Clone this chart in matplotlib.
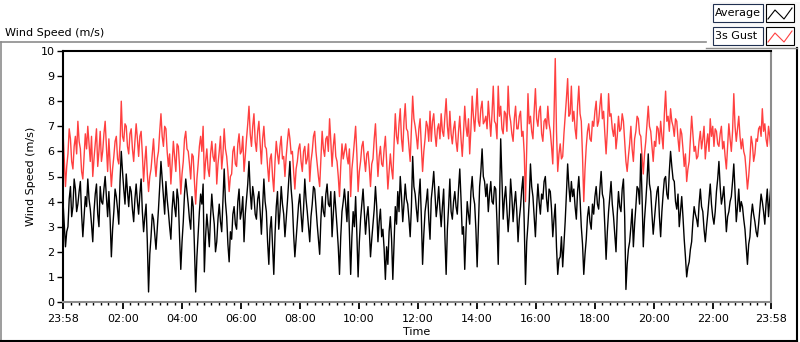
import numpy as np
import matplotlib
matplotlib.use("Agg")
import matplotlib.pyplot as plt
from matplotlib.patches import Rectangle
from matplotlib.lines import Line2D

# ==========================================
# Data (~2.5 min samples, 23:58 -> 23:58)
# ==========================================
average = [
    # 23:58 - 04:45
    4.0, 3.1, 2.2, 2.8, 3.0, 4.1, 4.6, 3.4, 3.8, 4.9, 4.5, 3.6, 3.9, 4.4, 4.8, 3.5,
    2.6, 3.4, 4.2, 3.8, 4.9, 4.1, 3.7, 3.1, 2.4, 3.6, 4.3, 4.7, 3.5, 3.0, 4.6, 4.0,
    3.9, 4.5, 5.0, 4.2, 3.4, 4.4, 3.3, 1.8, 2.9, 3.6, 4.5, 4.2, 3.7, 3.1, 4.8,
    6.0, 5.2, 4.5, 3.9, 5.1, 4.4, 3.8, 4.6, 4.4, 3.7, 3.2, 4.1, 4.7, 4.0, 3.5, 4.3,
    4.9, 3.6, 2.8, 3.4, 3.9, 2.4, 0.4, 1.9, 2.6, 3.5, 3.3, 2.7, 2.1, 2.9, 3.7, 4.6,
    5.6, 4.9, 4.2, 3.5, 4.8, 4.1, 3.6, 3.0, 2.5, 3.7, 4.4, 3.8, 3.4, 4.5, 4.1, 2.6,
    1.3, 2.4, 3.2, 4.3, 4.9, 4.4, 3.9, 3.3, 2.9, 4.2, 3.8, 2.2, 0.4, 1.8, 2.7, 3.6,
    4.3, 3.9, 4.7,
    # 04:45 - 09:35
    1.2, 2.6, 3.5, 2.9, 2.2, 3.4, 4.3, 3.6, 3.1, 2.0, 2.4, 3.3, 3.9, 3.2, 2.8, 4.1,
    5.3, 4.0, 3.4, 2.3, 1.6, 2.8, 2.5, 3.5, 3.8, 3.1, 2.9, 4.0, 4.5, 3.3, 3.6, 4.2,
    2.4, 3.5, 4.1, 4.7, 5.6, 4.4, 3.7, 4.6, 4.2, 3.5, 3.3, 4.1, 4.4, 3.6, 2.7, 3.8,
    4.9, 4.0, 3.6, 2.4, 1.5, 2.9, 3.4, 2.2, 1.1, 2.7, 3.8, 4.4, 2.9, 3.6, 4.6, 3.9,
    3.5, 2.6, 3.3, 4.0, 4.8, 5.6, 4.5, 3.9, 2.7, 1.8, 2.5, 3.2, 3.9, 4.3, 3.5,
    2.8, 3.7, 4.9, 4.1, 3.6, 3.0, 2.4, 3.4, 3.9, 4.6, 4.5, 3.8, 3.1, 2.5, 1.9, 3.3,
    4.2, 3.6, 3.4, 4.3, 4.7, 3.9, 3.8, 4.4, 2.6, 3.5, 4.4, 3.7, 3.0, 2.2, 1.1, 2.6,
    3.6, 4.0, 4.5,
    # 09:35 - 14:25
    3.9, 3.2, 4.4, 2.8, 1.1, 2.6, 3.6, 3.0, 4.2, 2.7, 1.0, 2.4, 3.3, 3.9, 4.5, 3.6,
    2.7, 3.4, 3.8, 2.9, 1.8, 2.5, 3.1, 3.7, 4.6, 3.8, 2.4, 3.2, 3.7, 2.6, 2.9, 2.1,
    0.9, 2.2, 1.5, 2.8, 3.4, 2.5, 0.9, 2.3, 3.8, 3.1, 4.4, 3.6, 5.0, 4.2, 3.2, 3.9,
    4.7, 4.1, 3.9, 3.3, 2.6, 3.8, 5.8, 4.6, 4.3, 3.7, 3.2, 4.2, 4.9, 3.4, 1.5, 2.7,
    3.6, 4.0, 4.5, 3.3, 2.5, 4.1, 4.6, 5.2, 4.3, 3.4, 3.9, 4.6, 3.7, 3.0, 3.8,
    4.5, 2.6, 1.1, 2.9, 3.8, 4.9, 3.6, 3.3, 4.0, 4.4, 3.8, 3.5, 4.5, 5.3, 4.1,
    2.7, 3.0, 1.3, 2.8, 4.0, 3.5, 3.1, 4.4, 5.0, 4.2, 3.9, 2.9, 1.4, 3.0, 4.6, 5.2,
    6.1, 5.0, 4.8,
    # 14:25 - 19:15
    4.2, 4.7, 3.6, 4.3, 4.8, 4.0, 3.9, 4.6, 4.5, 3.2, 1.5, 3.8, 6.5, 4.9, 3.3, 4.1,
    4.6, 3.7, 2.8, 3.5, 4.9, 4.2, 3.2, 3.9, 4.4, 3.6, 2.4, 3.3, 3.8, 4.5, 5.0, 3.1,
    0.7, 2.4, 3.1, 4.0, 5.5, 4.6, 4.2, 3.4, 2.6, 3.8, 4.7, 4.0, 3.5, 4.3, 4.1, 4.8,
    5.0, 4.1, 3.6, 4.5, 4.4, 3.7, 2.6, 3.3, 3.9, 2.2, 1.1, 1.7, 1.8, 2.6, 1.4, 2.3,
    3.2, 4.3, 5.5, 4.6, 4.0, 4.8, 4.2, 4.5, 3.8, 3.3, 4.4, 5.0, 4.1, 3.0, 2.3,
    1.1, 1.9, 2.5, 3.4, 3.8, 3.2, 2.9, 3.9, 3.5, 4.2, 4.6, 3.9, 3.7, 4.5, 5.2, 4.3,
    4.1, 3.0, 1.7, 2.8, 3.6, 4.2, 4.8, 3.9, 3.4, 2.7, 2.0, 3.5, 4.4, 3.8, 3.6, 4.5,
    4.9, 3.4, 0.5,
    # 19:15 - 23:58
    1.5, 2.1, 2.4, 3.0, 3.7, 2.2, 3.1, 3.8, 4.6, 4.5, 3.9, 5.9, 4.2, 2.2, 3.3, 4.0, 4.8,
    5.9, 4.7, 4.4, 3.5, 2.7, 3.3, 3.9, 4.4, 4.6, 3.4, 2.6, 3.6, 4.3, 4.9, 5.0, 4.3,
    4.1, 5.2, 6.0, 5.4, 4.9, 4.8, 4.0, 3.7, 4.3, 3.0, 3.6, 4.2, 3.4, 2.5, 1.8, 1.0, 1.4,
    1.6, 2.1, 2.4, 3.2, 3.8, 3.5, 3.3, 3.0, 3.9, 4.5, 3.8, 3.6, 2.9, 2.4, 3.0, 3.5, 4.1,
    4.7, 3.9, 3.4, 3.1, 3.6, 4.4, 4.9, 5.6, 4.6, 3.9, 4.2, 4.6, 3.7, 2.8, 3.4, 3.6, 4.0,
    4.2, 4.8, 5.5, 4.4, 3.2, 3.8, 4.5, 3.6, 4.0, 3.8, 3.3, 2.9, 2.2, 1.5, 2.3, 2.6, 3.4,
    3.9, 3.5, 3.2, 2.8, 2.6, 3.1, 3.7, 4.3, 4.0, 3.6, 3.1, 3.9, 4.5, 3.4, 4.1, 4.7,
]

gust = [
    # 23:58 - 04:45
    6.8, 5.7, 4.6, 5.4, 5.9, 6.9, 6.5, 5.6, 5.3, 6.2, 6.6, 5.9, 7.2, 6.4, 6.1, 5.2,
    4.9, 5.8, 6.7, 6.1, 7.0, 6.3, 5.6, 6.6, 5.0, 5.7, 6.3, 6.9, 5.4, 6.0, 6.8, 5.6,
    6.0, 6.7, 7.2, 6.2, 5.2, 6.5, 5.5, 4.6, 5.3, 5.8, 6.4, 6.6, 5.7, 5.5, 6.3,
    8.0, 6.6, 6.4, 7.1, 7.0, 6.2, 5.9, 6.7, 6.9, 6.1, 5.6, 6.4, 7.1, 6.5, 5.8, 6.6,
    6.8, 5.9, 4.8, 5.6, 6.2, 5.1, 4.4, 5.0, 5.3, 5.9, 6.5, 5.6, 5.0, 5.7, 6.0, 6.8,
    7.5, 6.6, 6.2, 7.0, 6.9, 6.0, 5.4, 5.9, 4.7, 5.5, 6.4, 5.8, 5.2, 6.3, 6.2, 5.4,
    4.3, 5.1, 5.6, 6.5, 6.8, 6.1, 6.0, 5.5, 4.9, 5.9, 5.8, 4.8, 3.9, 4.9, 5.5, 6.2,
    6.6, 6.0, 7.0,
    # 04:45 - 09:35
    4.9, 5.6, 6.1, 5.3, 5.0, 5.9, 6.4, 5.8, 5.6, 6.3, 4.7, 5.5, 6.0, 6.6, 5.3, 5.9,
    6.9, 6.1, 5.8, 5.2, 4.4, 5.0, 5.1, 6.0, 6.2, 5.5, 5.4, 6.3, 6.7, 5.9, 6.0, 6.6,
    5.2, 5.8, 6.5, 7.1, 7.8, 6.7, 6.2, 7.0, 7.5, 6.4, 6.0, 6.8, 7.2, 6.3, 5.5, 6.5,
    7.0, 6.2, 6.1, 5.4, 4.8, 5.7, 5.9, 5.0, 4.4, 5.6, 6.4, 5.9, 5.5, 6.2, 6.6, 5.7,
    5.8, 5.0, 5.8, 6.4, 6.9, 6.5, 5.9, 6.0, 5.2, 4.5, 5.3, 5.6, 6.1, 6.3, 5.6,
    5.2, 6.0, 6.2, 5.5, 5.7, 6.3, 4.8, 5.6, 6.0, 6.6, 6.8, 6.0, 5.5, 5.0, 4.6, 5.7,
    6.8, 6.1, 5.8, 6.5, 6.6, 6.0, 7.3, 6.4, 5.4, 6.2, 6.7, 5.8, 5.6, 5.0, 4.2, 5.4,
    6.3, 5.7, 6.0,
    # 09:35 - 14:25
    6.3, 5.8, 5.5, 6.1, 4.2, 5.3, 5.8, 6.4, 7.0, 5.9, 4.4, 5.2, 5.6, 6.2, 6.4, 5.7,
    5.2, 5.9, 6.0, 5.4, 4.6, 5.5, 5.7, 6.5, 7.1, 6.0, 5.0, 5.8, 6.2, 5.5, 5.4, 6.1,
    6.6, 5.6, 4.5, 5.2, 5.9, 5.3, 4.9, 6.3, 7.5, 6.6, 6.3, 7.1, 7.7, 6.5, 6.0, 7.2,
    7.9, 6.9, 6.8, 6.2, 5.6, 6.9, 8.2, 7.3, 7.0, 6.6, 6.1, 6.9, 7.3, 6.2, 5.2, 6.0,
    6.5, 7.2, 7.0, 6.4, 7.6, 6.4, 7.2, 7.5, 6.7, 6.2, 6.9, 7.1, 6.5, 7.5, 6.8,
    6.6, 7.4, 8.1, 7.0, 6.5, 7.6, 6.7, 6.3, 6.9, 7.2, 6.4, 6.0, 6.8, 7.4, 6.5,
    5.8, 6.7, 7.8, 7.0, 6.6, 7.3, 5.9, 6.9, 8.2, 7.4, 6.8, 7.6, 8.5, 7.2, 7.0, 7.7,
    8.0, 7.1, 7.2,
    # 14:25 - 19:15
    7.4, 6.9, 8.0, 7.3, 6.6, 7.5, 8.6, 7.2, 7.1, 6.5, 8.6, 7.4, 7.8, 6.9, 6.7, 7.6,
    7.5, 6.8, 8.6, 7.5, 7.2, 6.7, 6.4, 7.3, 7.8, 6.9, 6.9, 7.4, 7.6, 6.6, 6.8, 5.9,
    4.0, 6.2, 8.3, 7.1, 7.4, 6.8, 6.5, 7.6, 8.5, 7.3, 7.0, 7.6, 7.8, 6.7, 6.4, 7.2,
    7.3, 6.9, 7.8, 7.1, 6.8, 6.2, 5.5, 7.4, 9.7, 6.8, 5.2, 5.9, 6.3, 5.7, 5.8, 6.7,
    7.4, 8.1, 8.9, 7.4, 7.5, 8.6, 7.2, 7.6, 6.9, 6.5, 7.8, 8.6, 7.5, 7.2, 5.8,
    4.0, 5.3, 6.2, 6.8, 7.1, 6.5, 6.4, 7.2, 7.0, 7.6, 8.0, 7.0, 7.2, 7.8, 8.3, 7.3,
    7.6, 6.7, 5.9, 6.8, 8.3, 7.4, 7.5, 6.9, 6.6, 7.1, 6.1, 6.6, 7.4, 6.8, 6.9, 7.5,
    7.2, 6.4, 5.6,
    # 19:15 - 23:58
    5.2, 5.8, 6.3, 7.0, 6.1, 5.6, 6.5, 6.8, 7.4, 7.3, 6.7, 6.6, 5.8, 5.1, 5.9, 6.4, 7.1,
    7.8, 7.0, 6.8, 6.2, 5.6, 6.4, 6.2, 7.0, 6.9, 6.3, 7.2, 6.6, 6.1, 7.5, 8.4, 7.2,
    7.4, 6.8, 7.7, 7.2, 7.0, 6.6, 7.3, 7.2, 6.5, 6.0, 6.9, 6.7, 6.1, 5.4, 5.9, 4.8, 5.3,
    5.6, 6.5, 7.4, 6.7, 6.0, 6.2, 5.7, 5.8, 6.4, 6.8, 6.1, 6.5, 7.0, 5.7, 6.3, 6.7, 6.0,
    7.3, 6.6, 7.0, 6.2, 6.9, 6.8, 6.3, 6.2, 6.7, 7.0, 6.1, 6.4, 5.8, 5.3, 6.2, 7.1, 6.5,
    6.0, 6.8, 8.3, 7.0, 6.4, 6.9, 7.4, 6.6, 6.1, 6.5, 6.0, 5.8, 5.2, 4.5, 5.0, 5.7, 6.6,
    6.3, 5.6, 5.9, 6.5, 6.4, 6.9, 7.0, 6.6, 7.7, 6.8, 7.1, 6.5, 6.2, 7.0, 6.6, 6.0,
]

tick_labels = ["23:58", "02:00", "04:00", "06:00", "08:00", "10:00", "12:00",
               "14:00", "16:00", "18:00", "20:00", "22:00", "23:58"]
series_names = ["Average", "3s Gust"]

# 時間軸：從 23:58 起算的分鐘數
t_avg = np.linspace(0, 1440, len(average))
t_gust = np.linspace(0, 1440, len(gust))
major_pos = [0] + [122 + 120 * k for k in range(11)] + [1440]
minor_pos = [m for m in range(2, 1440, 15) if all(abs(m - p) > 3 for p in major_pos)]

RED = "#ff4040"
plt.rcParams["font.family"] = ["DejaVu Sans"]
fig = plt.figure(figsize=(8, 3.42), dpi=100)
W, H = 800, 342

def fx(px):
    return px / W

def fy(py):
    return 1 - py / H

# outer frame (LabVIEW style)
fig.add_artist(Line2D([fx(1), fx(1)], [fy(42), fy(340)], color="#8c8c8c", lw=1.2))
fig.add_artist(Line2D([fx(1), fx(706)], [fy(42), fy(42)], color="#8c8c8c", lw=1.2))
fig.add_artist(Line2D([fx(1), fx(797)], [fy(340.5), fy(340.5)], color="black", lw=1.5))
fig.add_artist(Line2D([fx(797), fx(797)], [fy(48), fy(340.5)], color="black", lw=1.5))
fig.text(fx(5), fy(36), "Wind Speed (m/s)", fontsize=8, va="baseline", ha="left")

ax = fig.add_axes([fx(63), fy(302), fx(771 - 63), (302 - 51) / H])
ax.plot(t_gust, gust, color=RED, lw=1.0)
ax.plot(t_avg, average, color="black", lw=1.0)
ax.set_xlim(0, 1440)
ax.set_ylim(0, 10)
ax.set_yticks(range(0, 11))
ax.set_xticks(major_pos)
ax.set_xticklabels(tick_labels)
ax.set_xticks(minor_pos, minor=True)
ax.tick_params(axis="both", which="major", direction="out", length=4, width=1,
               labelsize=8, pad=2)
ax.tick_params(axis="x", which="minor", direction="out", length=2.5, width=1)
ax.tick_params(axis="x", which="major", length=5, width=1.3, pad=4)
for side in ("top", "left"):
    ax.spines[side].set_color("black")
    ax.spines[side].set_linewidth(1.5)
for side in ("right", "bottom"):
    ax.spines[side].set_color("#8c8c8c")
    ax.spines[side].set_linewidth(1.5)
ax.set_ylabel("Wind Speed (m/s)", fontsize=8, labelpad=3)
ax.set_xlabel("Time", fontsize=8, labelpad=2)

# legend (two rows, top right)
fig.add_artist(Rectangle((fx(710), fy(48)), fx(90), 46 / H, facecolor="#f9f9f9",
                         edgecolor="none"))
fig.add_artist(Line2D([fx(706), fx(797)], [fy(48), fy(48)], color="#8c8c8c", lw=1))
for i, (name, col) in enumerate(zip(series_names, ["black", RED])):
    top = 4 + i * 23
    fig.add_artist(Rectangle((fx(713), fy(top + 18)), fx(50), 18 / H, facecolor="white",
                             edgecolor="#203050", lw=0.8))
    fig.text(fx(715), fy(top + 9), name, fontsize=8, va="center", ha="left")
    fig.add_artist(Rectangle((fx(766), fy(top + 18)), fx(28), 18 / H, facecolor="white",
                             edgecolor="black", lw=0.8))
    zx = [768, 775, 784, 792]
    zy = [top + 15, top + 6, top + 15, top + 4]
    fig.add_artist(Line2D([fx(v) for v in zx], [fy(v) for v in zy], color=col, lw=0.8))

fig.savefig("out.png", dpi=100, facecolor="white")
